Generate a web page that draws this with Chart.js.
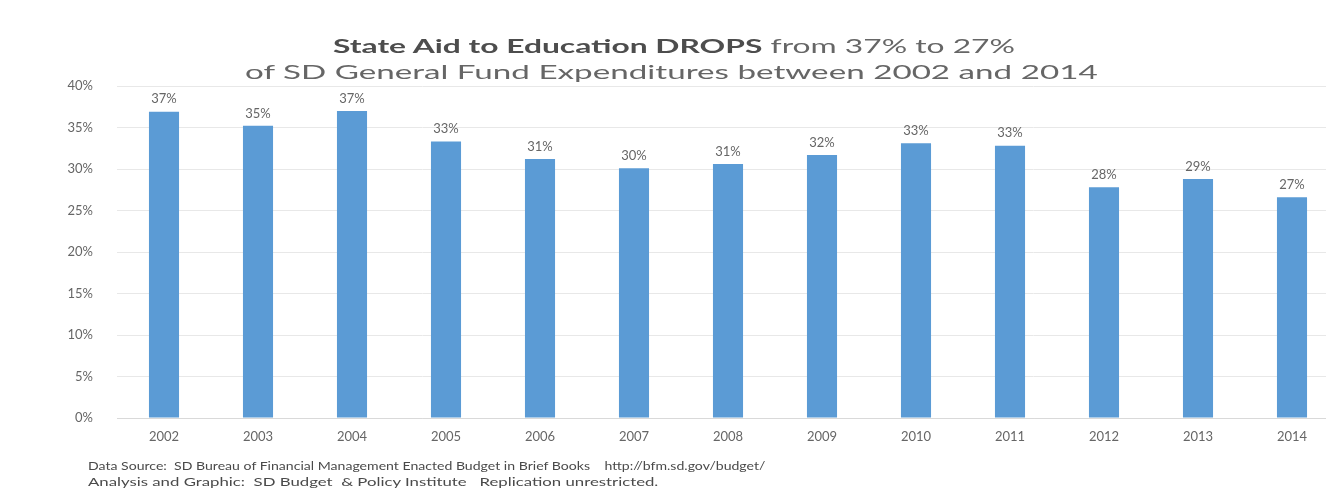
<!DOCTYPE html>
<html>
<head>
<meta charset="utf-8">
<script src="https://cdn.jsdelivr.net/npm/chart.js@4/dist/chart.umd.min.js"></script>
<style>
  html, body { margin: 0; padding: 0; background: #fff; overflow: hidden; width: 1326px; height: 497px; }
  #wrap { position: relative; width: 1326px; height: 497px; overflow: hidden; }
  #myChart { position: absolute; left: 0; top: 0; }
  .line { position: absolute; white-space: nowrap; font-family: Lato, "Open Sans", sans-serif; color: #666; transform-origin: left center; }
  .title { font-size: 19px; }
  .title b { color: #4d4d4d; }
  .foot { font-size: 11px; color: #4a4a4a; }
</style>
</head>
<body>
<div id="wrap">
  <canvas id="myChart" width="1345" height="497" style="width:1345px;height:497px"></canvas>
  <span class="line title" id="t1"><b>State Aid to Education DROPS</b> from 37% to 27%</span>
  <span class="line title" id="t2">of SD General Fund Expenditures between 2002 and 2014</span>
  <span class="line foot" id="f1">Data Source:&nbsp; SD Bureau of Financial Management Enacted Budget in Brief Books&nbsp;&nbsp;&nbsp; http://bfm.sd.gov/budget/</span>
  <span class="line foot" id="f2">Analysis and Graphic:&nbsp; SD Budget&nbsp; &amp; Policy Institute&nbsp;&nbsp; Replication unrestricted.</span>
</div>
<script>
// years on the x axis
const years = ['2002', '2003', '2004', '2005', '2006', '2007', '2008', '2009', '2010', '2011', '2012', '2013', '2014'];

// share of SD general fund spent on state aid to education (%)
const shares = [36.9, 35.2, 37.0, 33.3, 31.2, 30.1, 30.6, 31.7, 33.1, 32.8, 27.8, 28.8, 26.6];

// value labels shown above the bars
const shareLabels = ['37%', '35%', '37%', '33%', '31%', '30%', '31%', '32%', '33%', '33%', '28%', '29%', '27%'];

const gray = '#666666';

// small plugin to write the value above each bar
const barLabels = {
  id: 'barLabels',
  afterDatasetsDraw(chart) {
    const ctx = chart.ctx;
    const meta = chart.getDatasetMeta(0);
    ctx.save();
    ctx.font = '13px Lato, "Open Sans", sans-serif';
    ctx.fillStyle = gray;
    ctx.textAlign = 'center';
    ctx.textBaseline = 'bottom';
    meta.data.forEach((bar, i) => {
      ctx.fillText(shareLabels[i], bar.x, bar.y - 6);
    });
    ctx.restore();
  }
};

const data = {
  labels: years,
  datasets: [{
    label: 'State aid to education',
    data: shares,
    backgroundColor: '#5B9BD5',
    borderWidth: 0,
    categoryPercentage: 1,
    barPercentage: 0.32
  }]
};

const config = {
  type: 'bar',
  data,
  plugins: [barLabels],
  options: {
    responsive: false,
    animation: false,
    layout: { padding: { top: 86, bottom: 49, left: 0, right: 6 } },
    plugins: {
      legend: { display: false },
      tooltip: { enabled: false }
    },
    scales: {
      x: {
        grid: { display: false, drawTicks: false },
        border: { display: true, color: '#d9d9d9' },
        ticks: { color: gray, padding: 11, font: { family: 'Lato', size: 13 } },
        afterFit(scale) { scale.height = 30; }
      },
      y: {
        min: 0,
        max: 40,
        ticks: {
          stepSize: 5,
          color: gray,
          padding: 24,
          font: { family: 'Lato', size: 13 },
          callback: v => v + '%'
        },
        grid: { color: '#e8e8e8', drawTicks: false },
        border: { display: false },
        afterFit(scale) { scale.width = 117; }
      }
    }
  }
};

const myChart = new Chart(document.getElementById('myChart'), config);

// stretch the html text lines to the span they take in the picture
function place(id, left, right, midY) {
  const el = document.getElementById(id);
  const w = el.offsetWidth;
  const h = el.offsetHeight;
  el.style.left = left + 'px';
  el.style.top = (midY - h / 2) + 'px';
  el.style.transform = 'scaleX(' + ((right - left) / w) + ')';
}
place('t1', 333, 1015, 45);
place('t2', 245, 1097, 71);
place('f1', 88, 765, 465);
place('f2', 88, 658, 481);
</script>
</body>
</html>
